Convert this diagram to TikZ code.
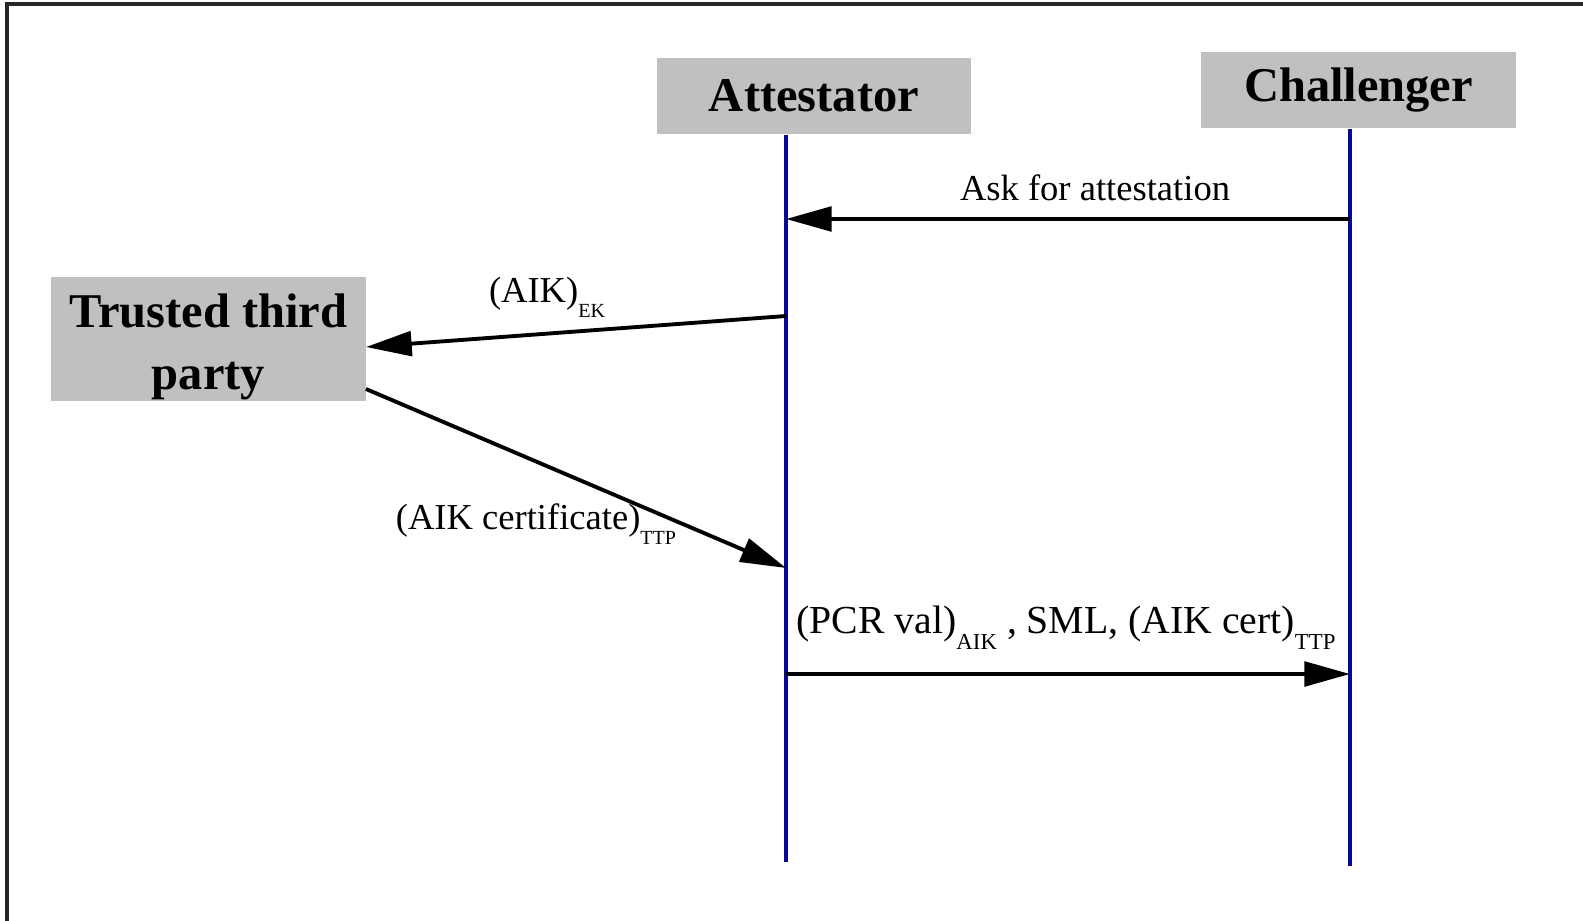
\documentclass[tikz,border=0pt]{standalone}
\usepackage{fontspec}
\setmainfont{Liberation Serif}
\usepackage{xcolor}
\usepackage{tikz}
\usetikzlibrary{arrows.meta}
\definecolor{box_grey}{RGB}{192,192,192}
\definecolor{life_blue}{RGB}{8,8,150}
\newcommand{\lowtxt}[1]{\raisebox{-0.9ex}{\fontsize{5.7}{6}\selectfont #1}}
\newcommand{\lowbig}[1]{\raisebox{-0.9ex}{\fontsize{6.5}{7}\selectfont #1}}
\tikzset{ party_box/.style = {rectangle, fill=box_grey, inner sep=0pt, align=center, font=\fontsize{13.8}{17.6}\selectfont\bfseries} }
\tikzset{ life_line/.style = {draw=life_blue, line width=1pt} }
\tikzset{ msg_arrow/.style = {line width=1.1pt, -{Triangle[length=13pt,width=7pt]}} }
\tikzset{ msg_text/.style = {inner sep=0pt, font=\fontsize{10.4}{12}\selectfont} }

\begin{document}
\begin{tikzpicture}
        \useasboundingbox (0,0) rectangle (15.83,9.20);
        \begin{scope}
            \clip (0,0) rectangle (15.83,9.20);
            \draw[line width=1pt, black!85] (0.07,-1) rectangle (17,9.16);
        \end{scope}
        \node[party_box, minimum width=3.14cm, minimum height=0.76cm] (att) at (8.14,8.24) {Attestator};
        \node[party_box, minimum width=3.15cm, minimum height=0.76cm] (chal) at (13.585,8.30) {Challenger};
        \node[party_box, minimum width=3.15cm, minimum height=1.24cm] (ttp) at (2.085,5.81) {\rule{0pt}{0.5cm}Trusted third\\party};
        \coordinate (att_end) at (7.86,0.58);
        \coordinate (chal_end) at (13.50,0.54);
        \draw[life_line] (att_end |- att.south) -- (att_end);
        \draw[life_line] (chal_end |- chal.south) -- (chal_end);
        \coordinate (c1) at (13.50,7.01);
        \coordinate (a1) at (7.86,7.01);
        \coordinate (a2) at (7.86,6.04);
        \coordinate (t2) at (3.66,5.73);
        \coordinate (t3) at (3.66,5.31);
        \coordinate (a3) at (7.86,3.52);
        \coordinate (a4) at (7.86,2.46);
        \coordinate (c4) at (13.50,2.46);
        \draw[msg_arrow] (c1) -- (a1);
        \draw[msg_arrow] (a2) -- (t2);
        \draw[msg_arrow] (t3) -- (a3);
        \draw[msg_arrow] (a4) -- (c4);
        \node[msg_text] (lbl1) at (10.95,7.32) {Ask for attestation};
        \node[msg_text] (lbl2) at (5.47,6.23) {(AIK)\lowtxt{EK}};
        \node[msg_text] (lbl3) at (5.36,3.96) {(AIK certificate)\lowtxt{TTP}};
        \node[msg_text, font=\fontsize{11.3}{13}\selectfont] (lbl4) at (10.66,2.92) {(PCR val)\lowbig{AIK} , SML, (AIK cert)\lowbig{TTP}};
    \end{tikzpicture}
\end{document}
